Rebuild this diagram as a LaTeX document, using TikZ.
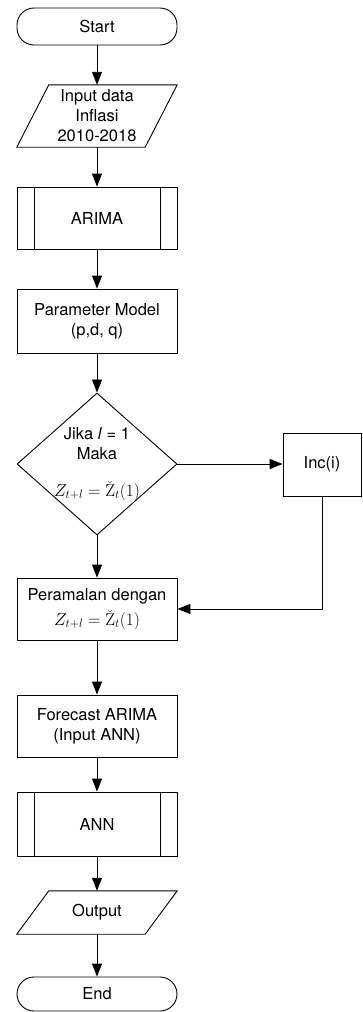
\documentclass[tikz,border=0pt]{standalone}
\usepackage[no-math]{fontspec}
\setmainfont{TeX Gyre Heros}
\usetikzlibrary{arrows.meta,shapes.geometric}

\begin{document}
\begin{tikzpicture}[x=1pt, y=1pt,
every node/.style={font=\fontsize{16.5}{20}\selectfont},
terminal/.style={rectangle, draw, rounded corners=17pt, minimum width=160pt, inner sep=0pt, line width=0.9pt},
process/.style={rectangle, draw, minimum width=160pt, inner sep=0pt, align=center, line width=0.9pt},
subproc/.style={process, path picture={
    \draw[line width=0.9pt] ([xshift=\inset]path picture bounding box.north west) -- ([xshift=\inset]path picture bounding box.south west)
          ([xshift=-\inset]path picture bounding box.north east) -- ([xshift=-\inset]path picture bounding box.south east);}},
io/.style={rectangle, draw=none, minimum width=160pt, inner sep=0pt, align=center},
decision/.style={diamond, draw, minimum width=160pt, minimum height=142pt, inner sep=0pt, line width=0.9pt},
edge/.style={line width=0.9pt, -{Triangle[length=13pt, width=10pt]}}]

%% local variables
\def \cx {97}
\def \inset {17pt}
\def \slant {32pt}

\useasboundingbox (0,0) rectangle (363,-1012);

%% place all blocks of the main column
\node[terminal, minimum height=37pt] (start) at (\cx,-26.5) {Start};
\node[io, minimum height=62pt] (input) at (\cx,-116) {Input data\\Inflasi\\2010-2018};
\node[subproc, minimum height=62pt] (arima) at (\cx,-218) {ARIMA};
\node[process, minimum height=64pt] (param) at (\cx,-321) {Parameter Model\\(p,d, q)};
\node[decision, label={[align=center]center:{Jika \textit{l} = 1\\Maka\\[17pt]$Z_{t+l} = \check{\mathrm{Z}}_t(1)$}}] (dec) at (\cx,-464) {};
\node[process, minimum height=62pt] (peram) at (\cx,-609) {Peramalan dengan\\[5pt]$Z_{t+l} = \check{\mathrm{Z}}_t(1)$};
\node[process, minimum height=62pt] (forecast) at (\cx,-726) {Forecast ARIMA\\(Input ANN)};
\node[subproc, minimum height=64pt] (ann) at (\cx,-824) {ANN};
\node[io, minimum height=43pt] (output) at (\cx,-912.5) {Output};
\node[terminal, minimum height=34pt] (stop) at (\cx,-994) {End};

%% place the loop block
\node[process, minimum width=78pt, minimum height=63pt] (inc) at (322,-464.5) {Inc(i)};

%% draw the parallelograms round the io blocks
\foreach \n in {input, output}
      \draw[line width=0.9pt] ([xshift=\slant]\n.north west) -- (\n.north east) -- ([xshift=-\slant]\n.south east) -- (\n.south west) -- cycle;

%% place all edges
\foreach \a/\b in {start/input, input/arima, arima/param, param/dec, dec/peram, peram/forecast, forecast/ann, ann/output, output/stop}
      \draw[edge] (\a) -- (\b);

\draw[edge] (dec.east) -- (dec.east -| inc.west);
\draw[edge] (inc.south) |- (peram.east);

\end{tikzpicture}
\end{document}
